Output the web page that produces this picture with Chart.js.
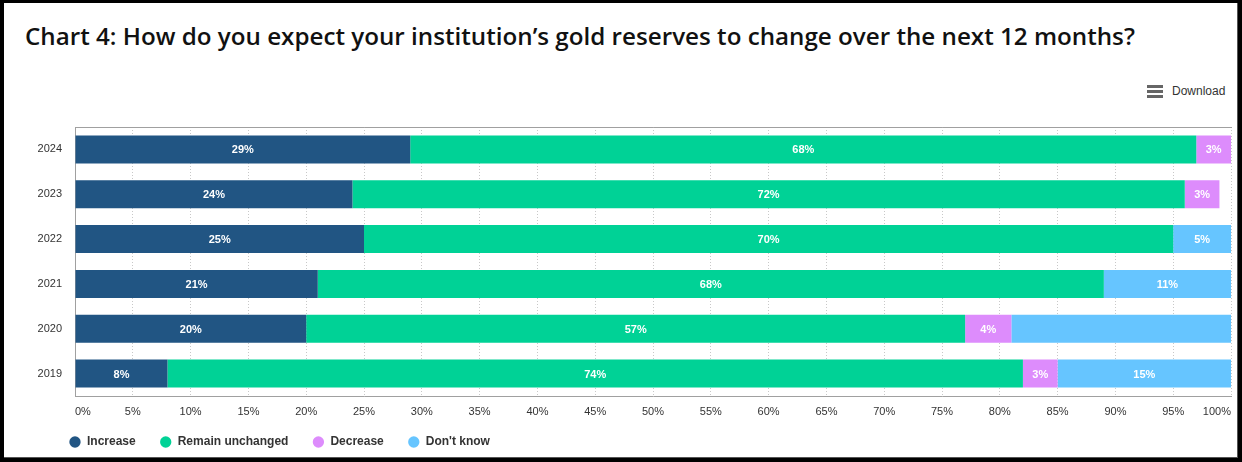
<!DOCTYPE html>
<html>
<head>
<meta charset="utf-8">
<script src="https://cdn.jsdelivr.net/npm/chart.js@4.4.1/dist/chart.umd.min.js"></script>
<style>
  html, body { margin: 0; padding: 0; background: #000; width: 1242px; height: 462px; overflow: hidden; }
  #card { position: absolute; left: 4px; top: 3px; width: 1233px; height: 454px; background: #fff; border-right: 1px solid #555; border-bottom: 1px solid #555; }
  #title { position: absolute; left: 25px; top: 19px; margin: 0; font: 600 24.2px "Open Sans", sans-serif; color: #111; white-space: nowrap; }
  #download { position: absolute; left: 1147px; top: 84px; font: 12px "Liberation Sans", Arial, sans-serif; color: #333; display: flex; align-items: center; }
  #download .icon { width: 16px; height: 13px; margin-right: 9px; display: flex; flex-direction: column; justify-content: space-between; }
  #download .icon span { display: block; height: 3px; background: #666; }
  #wrap { position: absolute; left: 0; top: 0; width: 1242px; height: 462px; }
</style>
</head>
<body>
<div id="card"></div>
<h1 id="title">Chart 4: How do you expect your institution’s gold reserves to change over the next 12 months?</h1>
<div id="download"><div class="icon"><span></span><span></span><span></span></div>Download</div>
<div id="wrap"><canvas id="chart"></canvas></div>
<script>
// Survey data, top row first
const years = ['2024', '2023', '2022', '2021', '2020', '2019'];
const increase = [29, 24, 25, 21, 20, 8];
const unchanged = [68, 72, 70, 68, 57, 74];
const decrease = [3, 3, 0, 0, 4, 3];
const dontKnow = [0, 0, 5, 11, 19, 15];
const seriesNames = ['Increase', 'Remain unchanged', 'Decrease', "Don't know"];
const seriesColors = ['#215583', '#00d296', '#dd8cfc', '#66c5ff'];
const xTicks = [0, 5, 10, 15, 20, 25, 30, 35, 40, 45, 50, 55, 60, 65, 70, 75, 80, 85, 90, 95, 100];
// bars whose value label is not shown in the original [dataset, row]
const unlabelled = [[3, 4]];

const barLabels = {
  id: 'barLabels',
  afterDatasetsDraw(chart) {
    const ctx = chart.ctx;
    ctx.save();
    ctx.font = 'bold 11px "Liberation Sans", Arial, sans-serif';
    ctx.fillStyle = '#fff';
    ctx.textAlign = 'center';
    ctx.textBaseline = 'middle';
    chart.data.datasets.forEach((ds, di) => {
      chart.getDatasetMeta(di).data.forEach((bar, i) => {
        const v = ds.data[i];
        if (!v) return;
        if (unlabelled.some(p => p[0] === di && p[1] === i)) return;
        ctx.fillText(v + '%', (bar.x + bar.base) / 2, bar.y + 1);
      });
    });
    ctx.restore();
  }
};

// legend starts under the plot's left edge, a bit tighter to the axis
const legendPlace = {
  id: 'legendPlace',
  afterLayout(chart) {
    const lg = chart.legend;
    const dx = chart.chartArea.left - 30 - lg.left;
    lg.left += dx;
    lg.right += dx;
    lg.top -= 4;
    lg.bottom -= 4;
  }
};

const ctx = document.getElementById('chart').getContext('2d');
new Chart(ctx, {
  type: 'bar',
  data: {
    labels: years,
    datasets: [increase, unchanged, decrease, dontKnow].map((d, i) => ({
      label: seriesNames[i],
      data: d,
      backgroundColor: seriesColors[i],
      borderWidth: 0,
      categoryPercentage: 0.625,
      barPercentage: 1
    }))
  },
  options: {
    indexAxis: 'y',
    responsive: true,
    maintainAspectRatio: false,
    animation: false,
    layout: { padding: { top: 127, left: 20, right: 11, bottom: 0 } },
    scales: {
      x: {
        stacked: true,
        min: 0,
        max: 100,
        afterBuildTicks(scale) { scale.ticks = xTicks.map(v => ({ value: v })); },
        afterFit(scale) { scale.height = 20; scale.paddingLeft = 0; scale.paddingRight = 0; },
        ticks: {
          align: 'inner',
          padding: 9,
          color: '#333',
          font: { size: 11, family: '"Liberation Sans", Arial, sans-serif' },
          callback: v => v + '%'
        },
        grid: { color: '#c8c8c8', drawTicks: false, lineWidth: 1 },
        border: { color: '#a0a0a0', dash: [1, 2], display: true }
      },
      x2: {
        position: 'top',
        min: 0,
        max: 100,
        afterFit(scale) { scale.height = 0; },
        ticks: { display: false },
        grid: { display: false, drawTicks: false },
        border: { display: true, color: '#a0a0a0' }
      },
      y: {
        stacked: true,
        afterFit(scale) { scale.width = 55; },
        ticks: {
          padding: 13,
          color: '#333',
          font: { size: 11, family: '"Liberation Sans", Arial, sans-serif' }
        },
        grid: { display: false, drawTicks: false },
        border: { display: true, color: '#a0a0a0' }
      }
    },
    plugins: {
      legend: {
        position: 'bottom',
        align: 'start',
        labels: {
          usePointStyle: true,
          pointStyle: 'circle',
          boxWidth: 12,
          boxHeight: 8,
          padding: 24,
          color: '#333',
          font: { size: 12, weight: 'bold', family: '"Liberation Sans", Arial, sans-serif' }
        }
      },
      tooltip: { enabled: false }
    }
  },
  plugins: [barLabels, legendPlace]
});
</script>
</body>
</html>
